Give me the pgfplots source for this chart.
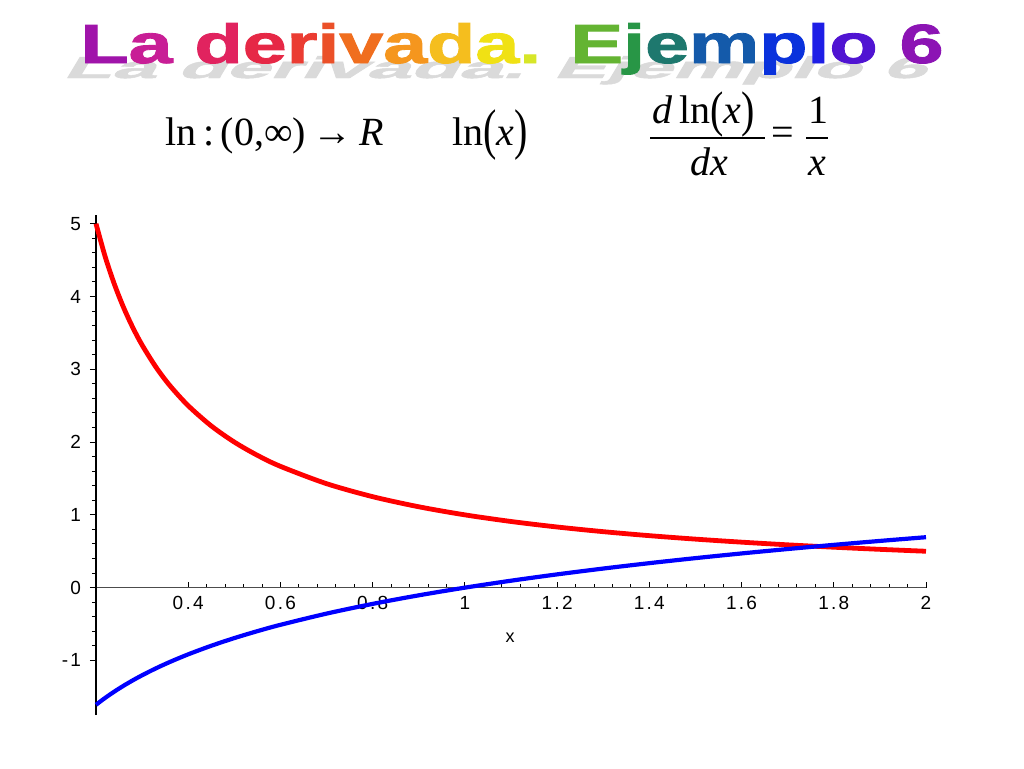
\documentclass[border=0pt]{standalone}
\usepackage{pgfplots}
\pgfplotsset{compat=1.18}
\usepackage{pgfplotstable}
\usepackage{graphicx}
\usepackage{fontspec}
\setmainfont{Liberation Serif}
\newfontfamily\titlefont{Liberation Sans}[BoldFeatures={FakeBold=1.5}]
\newfontfamily\tickfont{Liberation Sans}[LetterSpace=12]

% x, 1/x, ln(x)
\pgfplotstableread{
x    inv     lnx
0.20 5.0000 -1.6094
0.22 4.5455 -1.5141
0.24 4.1667 -1.4271
0.26 3.8462 -1.3471
0.28 3.5714 -1.2730
0.30 3.3333 -1.2040
0.33 3.0303 -1.1087
0.36 2.7778 -1.0217
0.40 2.5000 -0.9163
0.45 2.2222 -0.7985
0.50 2.0000 -0.6931
0.55 1.8182 -0.5978
0.60 1.6667 -0.5108
0.70 1.4286 -0.3567
0.80 1.2500 -0.2231
0.90 1.1111 -0.1054
1.00 1.0000  0.0000
1.10 0.9091  0.0953
1.20 0.8333  0.1823
1.30 0.7692  0.2624
1.40 0.7143  0.3365
1.50 0.6667  0.4055
1.60 0.6250  0.4700
1.70 0.5882  0.5306
1.80 0.5556  0.5878
1.90 0.5263  0.6419
2.00 0.5000  0.6931
}\curves

\newcommand\ttl{%
\textcolor[RGB]{160,20,170}{L}\textcolor[RGB]{200,30,150}{a} %
\textcolor[RGB]{225,35,95}{d}\textcolor[RGB]{230,40,70}{e}\textcolor[RGB]{235,60,50}{r}%
\textcolor[RGB]{235,80,40}{i}\textcolor[RGB]{240,110,30}{v}\textcolor[RGB]{245,150,30}{a}%
\textcolor[RGB]{245,190,30}{d}\textcolor[RGB]{240,225,20}{a}\textcolor[RGB]{215,230,40}{.} %
\textcolor[RGB]{100,180,50}{E}\textcolor[RGB]{40,150,70}{j}\textcolor[RGB]{30,120,110}{e}%
\textcolor[RGB]{20,90,170}{m}\textcolor[RGB]{10,50,220}{p}\textcolor[RGB]{30,30,230}{l}%
\textcolor[RGB]{80,20,210}{o} \textcolor[RGB]{140,20,180}{6}}
\newcommand\bigp[2][1.4]{\raisebox{-1.5pt}{\scalebox{1}[#1]{#2}}}

\begin{document}
\begin{tikzpicture}[x=0.5pt,y=-0.5pt]
\path[fill=white,use as bounding box] (0,0) rectangle (1024,768);

% title with its shadow
\node[anchor=base west,inner sep=0,xslant=0.6] at (62,78)
  {\resizebox{431.5pt}{11pt}{\titlefont\bfseries\color[RGB]{218,218,218}La derivada. Ejemplo 6}};
\node[anchor=base west,inner sep=0] at (80,63)
  {\resizebox{431.5pt}{20pt}{\titlefont\bfseries\ttl}};

% formulas
\node[anchor=base west,inner sep=0,font=\fontsize{20}{24}\selectfont] at (165,145)
  {ln\,:\,(0,∞)\,→\,\textit{R}};
\node[anchor=base west,inner sep=0,font=\fontsize{20}{24}\selectfont] at (452,145)
  {ln\bigp{(}\textit{x}\bigp{)}};
\node[anchor=base west,inner sep=0,font=\fontsize{20}{24}\selectfont] at (652,123)
  {\textit{d}\,ln\bigp[1.25]{(}\textit{x}\bigp[1.25]{)}};
\draw[line width=1pt] (650,138) -- (765,138);
\node[anchor=base west,inner sep=0,font=\fontsize{20}{24}\selectfont] at (690,175)
  {\textit{dx}};
\node[anchor=base west,inner sep=0,font=\fontsize{20}{24}\selectfont] at (771,145) {=};
\node[anchor=base west,inner sep=0,font=\fontsize{20}{24}\selectfont] at (808,123) {1};
\draw[line width=1pt] (806,138) -- (828,138);
\node[anchor=base west,inner sep=0,font=\fontsize{20}{24}\selectfont] at (808,175)
  {\textit{x}};

\begin{axis}[
  at={(48pt,-357.5pt)}, anchor=south west,
  scale only axis, width=415pt, height=250pt,
  xmin=0.2, xmax=2, ymin=-1.75, ymax=5.12,
  axis x line*=middle, axis y line*=left,
  x axis line style={line width=0.5pt,black!70},
  y axis line style={line width=1pt,black},
  xtick={0.4,0.6,0.8,1,1.2,1.4,1.6,1.8,2},
  xticklabels={0.4,0.6,0.8,1,1.2,1.4,1.6,1.8,2},
  ytick={-1,0,1,2,3,4,5},
  minor x tick num=4, minor y tick num=4,
  major tick length=3pt, minor tick length=2pt,
  xtick align=inside, ytick align=outside,
  tick style={black, line width=0.5pt},
  ticklabel style={font=\tickfont\fontsize{9.5}{11}\selectfont},
  /pgf/number format/assume math mode=true,
  xticklabel style={anchor=north, yshift=-1pt},
  yticklabel style={anchor=east, xshift=-1pt},
  xlabel={x},
  x label style={at={(axis description cs:0.499,0.154)},anchor=center,
                 font=\tickfont\fontsize{9}{11}\selectfont},
  clip=false,
]
\addplot[color=red, line width=2.4pt, smooth] table[x=x,y=inv] {\curves};
\addplot[color=blue, line width=2.1pt, smooth] table[x=x,y=lnx] {\curves};
\end{axis}
\end{tikzpicture}
\end{document}
